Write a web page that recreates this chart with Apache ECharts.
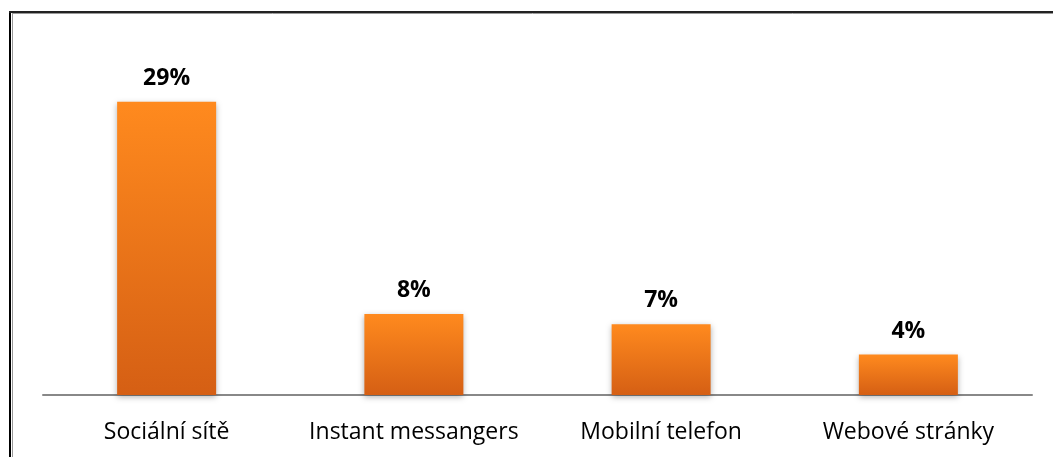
<!DOCTYPE html>
<html lang="cs">
<head>
  <meta charset="UTF-8">
  <title>Chart</title>
  <style>
    html, body { margin: 0; padding: 0; background: #fff; }
  </style>
</head>
<body>
  <div id="chart" style="width: 1053px; height: 457px;"></div>
  <script src="https://cdn.jsdelivr.net/npm/echarts@6/dist/echarts.min.js"></script>
  <script>
    const categories = ["Sociální sítě", "Instant messangers", "Mobilní telefon", "Webové stránky"];
    const values = [29, 8, 7, 4];

    const chart = echarts.init(document.getElementById("chart"), null, { renderer: 'canvas' });

    const barColor = new echarts.graphic.LinearGradient(0, 0, 0, 1, [
      { offset: 0, color: '#ff8a1e' },
      { offset: 1, color: '#d55f14' }
    ]);

    chart.setOption({
      animation: false,
      textStyle: { fontFamily: '"Open Sans", sans-serif' },
      grid: { left: 43, right: 21, top: 45, bottom: 62 },
      graphic: [
        { type: 'line', shape: { x1: 10, y1: 11, x2: 10, y2: 457 }, style: { stroke: '#000', lineWidth: 2 } },
        { type: 'line', shape: { x1: 12.5, y1: 13, x2: 12.5, y2: 457 }, style: { stroke: '#999', lineWidth: 1 } },
        { type: 'line', shape: { x1: 9, y1: 12, x2: 1053, y2: 12 }, style: { stroke: '#222', lineWidth: 2 } },
        { type: 'line', shape: { x1: 12, y1: 13.5, x2: 1053, y2: 13.5 }, style: { stroke: '#999', lineWidth: 1 } }
      ],
      xAxis: {
        type: 'category',
        data: categories,
        axisLine: { lineStyle: { color: '#888', width: 2 } },
        axisTick: { show: false },
        axisLabel: { color: '#000', fontSize: 23, margin: 26, interval: 0 }
      },
      yAxis: {
        type: 'value',
        min: 0,
        max: 34.6,
        show: false,
        splitLine: { show: false }
      },
      series: [{
        type: 'bar',
        data: values,
        barWidth: 99,
        itemStyle: {
          color: barColor,
          shadowColor: 'rgba(0,0,0,0.3)',
          shadowBlur: 6,
          shadowOffsetY: 2
        },
        label: {
          show: true,
          position: 'top',
          distance: 12,
          color: '#000',
          fontWeight: 'bold',
          fontSize: 23,
          formatter: p => p.value + '%'
        }
      }]
    });
  </script>
</body>
</html>
